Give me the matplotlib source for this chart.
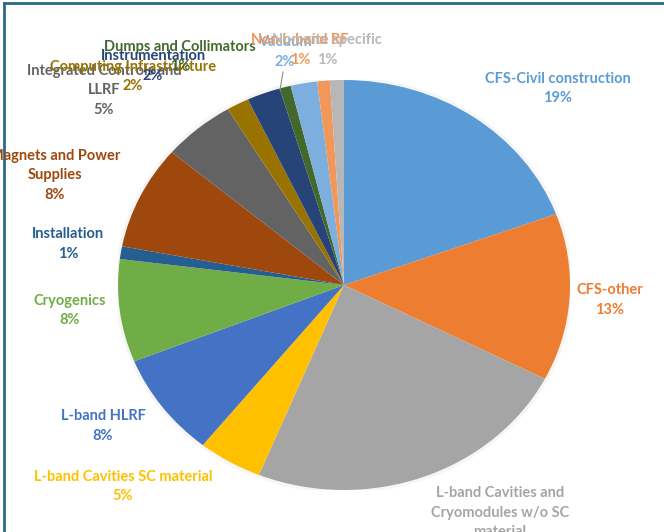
import matplotlib.pyplot as plt
from matplotlib.lines import Line2D
from matplotlib.patches import Ellipse

# cost breakdown (share of total, %)
categories = [
    'CFS-Civil construction', 'CFS-other',
    'L-band Cavities and\nCryomodules w/o SC\nmaterial',
    'L-band Cavities SC material', 'L-band HLRF', 'Cryogenics',
    'Installation', 'Magnets and Power\nSupplies',
    'Integrated Controls and\nLLRF', 'Computing Infrastructure',
    'Instrumentation', 'Dumps and Collimators', 'Vacuum',
    'Non L-band RF', 'Non-site specific',
]
shares = [19.4, 13.2, 23.6, 4.6, 8.2, 8.1, 1.0, 8.2, 5.2, 1.6, 2.4, 0.8, 1.9, 0.9, 1.0]

colors = ['#5B9BD5', '#ED7D31', '#A5A5A5', '#FFC000', '#4472C4', '#70AD47',
          '#255E91', '#9E480E', '#636363', '#997300', '#264478', '#43682B',
          '#7CAFDD', '#F1975A', '#B7B7B7']

# label centres in pixels (x, top of first line) - Excel placed these by hand
label_pos = [(558, 72), (610, 283), (500, 486), (123, 470), (103, 409),
             (70, 294), (68, 227), (55, 149), (104, 64), (133, 60),
             (153, 49), (180, 40), (285, 35), (300, 33), (327, 33)]

W, H = 664, 532
fig = plt.figure(figsize=(W / 100, H / 100), dpi=100)

cx, cy, rx, ry = 344, 285, 226, 205
ax = fig.add_axes([(cx - rx) / W, (H - cy - ry) / H, 2 * rx / W, 2 * ry / H])
# faint glow round the pie, like Excel's
for k in range(4):
    ax.add_patch(Ellipse((0, 0), 2 + 0.008 * k, 2 + 0.009 * k, facecolor='none',
                         edgecolor='black', alpha=0.025, linewidth=1.0, zorder=0))
ax.pie(shares, colors=colors, startangle=90, counterclock=False,
       wedgeprops=dict(linewidth=0), radius=1)
ax.set_aspect('auto')
ax.set_xlim(-1, 1)
ax.set_ylim(-1, 1)
ax.axis('off')

total = sum(shares)
for name, v, c, (px, py) in zip(categories, shares, colors, label_pos):
    fig.text(px / W, 1 - py / H, f'{name}\n{round(v / total * 100)}%',
             ha='center', va='top', color=c, fontsize=10.5, fontweight='bold',
             family=['Lato', 'DejaVu Sans'], linespacing=1.5)

# leader line for Vacuum
fig.add_artist(Line2D([283 / W, 280 / W], [1 - 72 / H, 1 - 90 / H],
                      color='#8c8c8c', linewidth=0.8))

# screenshot frame
fig.add_artist(Line2D([4 / W, 1], [1 - 3 / H, 1 - 3 / H], color='#2c6a8a', linewidth=2))
fig.add_artist(Line2D([4 / W, 4 / W], [0, 1 - 3 / H], color='#2c6a8a', linewidth=2))

fig.savefig('out.png', dpi=100)
